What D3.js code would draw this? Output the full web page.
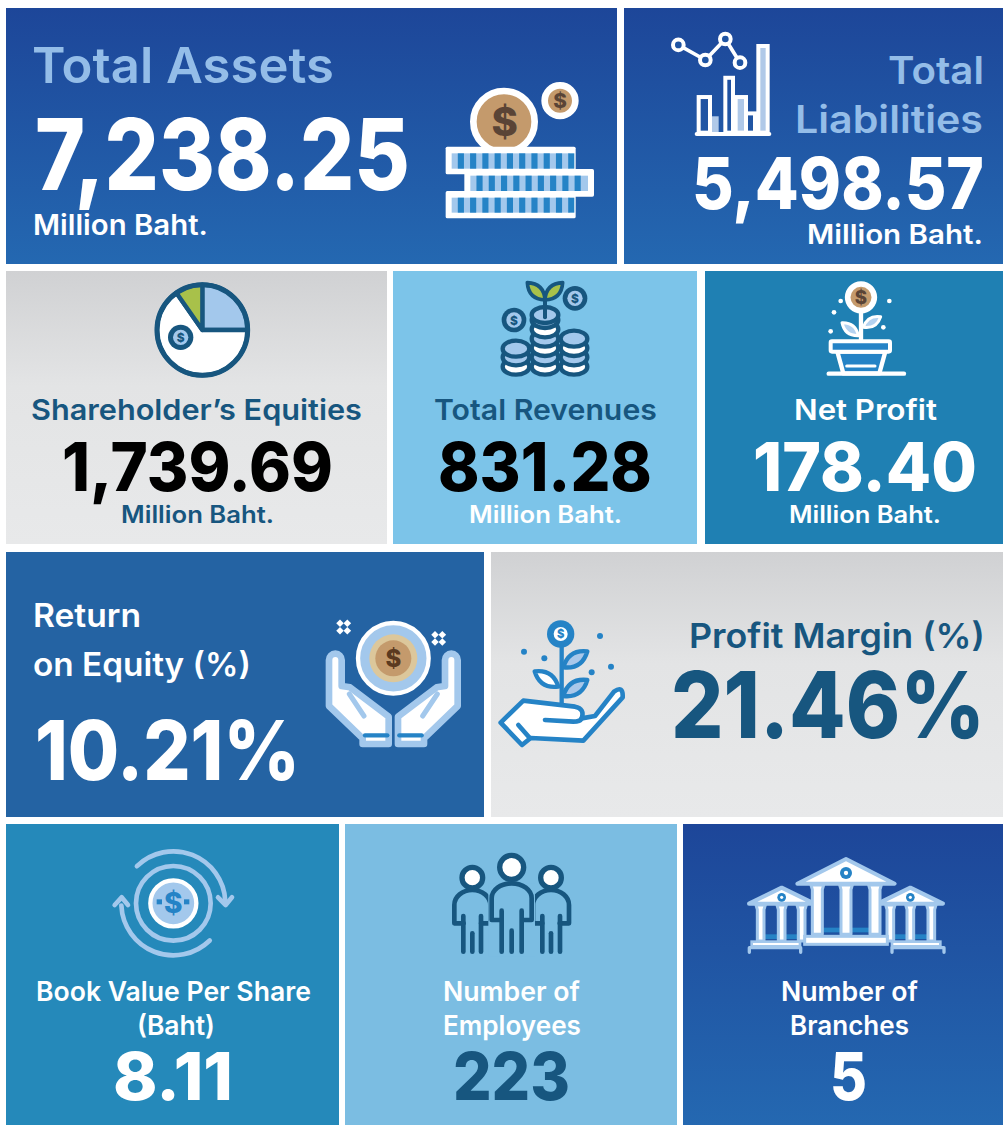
<!DOCTYPE html>
<html>
<head>
<meta charset="utf-8">
<script src="https://cdn.jsdelivr.net/npm/d3@7"></script>
<style>
  html, body { margin: 0; padding: 0; background: #fff; }
  svg { display: block; }
  text { font-family: Inter, "Noto Sans", sans-serif; }
</style>
</head>
<body>
<div id="chart"></div>
<script>
// figures as printed on the sheet
const titles = ["Total Assets", "Total", "Liabilities", "Shareholder’s Equities", "Total Revenues", "Net Profit",
  "Return", "on Equity (%)", "Profit Margin (%)", "Book Value Per Share", "(Baht)", "Number of", "Employees", "Number of", "Branches"];
const figures = ["7,238.25", "5,498.57", "1,739.69", "831.28", "178.40", "10.21%", "21.46%", "8.11", "223", "5"];
const unit = "Million Baht.";

// small charts inside the icons
const pieShares = [90, 235, 35];
const iconBars = [37, 17, 57, 37, 20, 90];
const iconLine = [18, 2.7, 24, 0];

const navy = "#17567f", mid = "#2583c6", pale = "#a3c8ec", tan = "#c49a6c", dollar = "#5a4436", leaf = "#a8c14a";

const svg = d3.select("#chart").append("svg").attr("width", 1003).attr("height", 1125);
const defs = svg.append("defs");

function gradient(id, stops) {
    const g = defs.append("linearGradient").attr("id", id).attr("x1", 0).attr("x2", 0).attr("y1", 0).attr("y2", 1);
    stops.forEach(s => g.append("stop").attr("offset", s[0]).attr("stop-color", s[1]));
}
gradient("blueGrad", [[0, "#1d4699"], [1, "#2468b1"]]);
gradient("grayGrad", [[0, "#d0d1d3"], [0.42, "#e3e4e5"], [1, "#e8e9ea"]]);

const tiles = [
    [6, 8, 617, 264, "url(#blueGrad)"], [624, 8, 1003, 264, "url(#blueGrad)"],
    [6, 271, 387, 544, "url(#grayGrad)"], [393, 271, 697, 544, "#7cc4e9"], [705, 271, 1003, 544, "#1f80b3"],
    [6, 552, 484, 817, "#2463a3"], [491, 552, 1003, 817, "url(#grayGrad)"],
    [6, 824, 339, 1125, "#2589ba"], [345, 824, 677, 1125, "#7bbde2"], [683, 824, 1003, 1125, "url(#blueGrad)"]
];
svg.selectAll("rect.tile").data(tiles).enter().append("rect")
    .attr("class", "tile")
    .attr("x", d => d[0]).attr("y", d => d[1])
    .attr("width", d => d[2] - d[0]).attr("height", d => d[3] - d[1])
    .attr("fill", d => d[4]);

// text is squeezed to the width it takes on the sheet
function label(str, x0, x1, base, size, weight, fill) {
    const t = svg.append("text")
        .attr("font-size", size).attr("font-weight", weight).attr("fill", fill)
        .text(str);
    const sx = (x1 - x0) / t.node().getComputedTextLength();
    t.attr("transform", `translate(${x0},${base}) scale(${sx},1)`);
}
const titleBlue = "#94bde8";

label(titles[0], 32, 334, 83, 50, 600, titleBlue);
label(figures[0], 35, 410, 190, 99, 800, "#fff");
label(unit, 33, 208, 235, 28, 600, "#fff");
label(titles[1], 888, 984, 84, 38, 600, titleBlue);
label(titles[2], 795, 983, 133, 38, 600, titleBlue);
label(figures[1], 692, 984, 209, 72, 800, "#fff");
label(unit, 807, 983, 244, 27, 600, "#fff");

label(titles[3], 31, 362, 420, 29, 600, navy);
label(figures[2], 62, 333, 491, 68, 800, "#000");
label(unit, 121, 274, 523, 24, 600, navy);
label(titles[4], 434, 657, 420, 29, 600, navy);
label(figures[3], 438, 652, 491, 68, 800, "#000");
label(unit, 469, 622, 523, 24, 600, "#fff");
label(titles[5], 794, 937, 420, 29, 600, "#fff");
label(figures[4], 753, 977, 491, 68, 800, "#fff");
label(unit, 789, 941, 523, 24, 600, "#fff");

label(titles[6], 33, 141, 627, 32, 600, "#fff");
label(titles[7], 33, 251, 676, 32, 600, "#fff");
label(figures[5], 35, 300, 780, 82, 800, "#fff");
label(titles[8], 689, 985, 648, 34, 600, navy);
label(figures[6], 671, 985, 738, 92, 800, navy);

label(titles[9], 36, 311, 1001, 27, 600, "#fff");
label(titles[10], 137, 215, 1035, 27, 600, "#fff");
label(figures[7], 113, 233, 1100, 66, 800, "#fff");
label(titles[11], 443, 580, 1001, 27, 600, "#fff");
label(titles[12], 443, 581, 1035, 27, 600, "#fff");
label(figures[8], 453, 570, 1100, 66, 800, navy);
label(titles[13], 781, 918, 1001, 27, 600, "#fff");
label(titles[14], 790, 909, 1035, 27, 600, "#fff");
label(figures[9], 830, 867, 1100, 66, 800, "#fff");

// icons are written in the coordinates of a 3x crop, hence the scale
function icon(x, y) {
    return svg.append("g").attr("transform", `translate(${x},${y}) scale(${1 / 3})`);
}
function circle(g, cx, cy, r, fill, stroke, sw) {
    return g.append("circle").attr("cx", cx).attr("cy", cy).attr("r", r)
        .attr("fill", fill).attr("stroke", stroke || "none").attr("stroke-width", sw || 0);
}
function path(g, d, fill, stroke, sw) {
    return g.append("path").attr("d", d).attr("fill", fill).attr("stroke", stroke || "none")
        .attr("stroke-width", sw || 0).attr("stroke-linecap", "round").attr("stroke-linejoin", "round");
}
function sign(g, cx, cy, size, fill) {
    g.append("text").attr("x", cx).attr("y", cy).attr("text-anchor", "middle").attr("dominant-baseline", "central")
        .attr("font-size", size).attr("font-weight", 800).attr("fill", fill).text("$");
}
function stripes(g, x0, x1, y0, y1) {
    const step = 18.4;
    g.append("rect").attr("x", x0).attr("y", y0).attr("width", x1 - x0).attr("height", y1 - y0).attr("fill", pale);
    d3.range(x0 + step, x1 - 4, step * 2).forEach(x => {
        g.append("rect").attr("x", x).attr("y", y0).attr("width", step).attr("height", y1 - y0).attr("fill", mid);
    });
}

// coins, total assets
{
    const g = icon(430, 20);
    circle(g, 222, 305, 92, tan, "#fff", 20);
    sign(g, 224, 305, 120, dollar);
    circle(g, 390, 242, 46, tan, "#fff", 20);
    sign(g, 390, 242, 62, dollar);
    [[47, 380, 437, 463], [103, 447, 492, 530], [47, 513, 437, 595]].forEach(b => {
        g.append("rect").attr("x", b[0]).attr("y", b[1]).attr("width", b[2] - b[0]).attr("height", b[3] - b[1])
            .attr("rx", 5).attr("fill", "#fff");
        stripes(g, b[0] + 18, b[2] - 18, b[1] + 20, b[3] - 17);
    });
}

// line + bars, total liabilities
{
    const g = icon(430, 20);
    const edges = [[806, 840], [846, 866], [886, 909], [917, 948], [948, 975], [985, 1013]];
    const y = d3.scaleLinear().domain([0, 90]).range([338, 78]);
    iconBars.forEach((v, i) => {
        const light = i === 1 || i === 3 || i === 5;
        g.append("rect").attr("x", edges[i][0]).attr("y", y(v)).attr("width", edges[i][1] - edges[i][0]).attr("height", 338 - y(v))
            .attr("fill", light ? "#b0c9e8" : "none")
            .attr("stroke", i === 1 ? "none" : "#fff").attr("stroke-width", i === 1 ? 0 : 12);
    });
    g.append("line").attr("x1", 800).attr("x2", 1018).attr("y1", 342).attr("y2", 342)
        .attr("stroke", "#fff").attr("stroke-width", 12).attr("stroke-linecap", "round");
    const lineX = [745, 826, 886, 930];
    const ly = d3.scaleLinear().domain([0, 24]).range([128, 57]);
    const line = d3.line().x((d, i) => lineX[i]).y(d => ly(d));
    path(g, line(iconLine), "none", "#fff", 11);
    iconLine.forEach((v, i) => circle(g, lineX[i], ly(v), 16, "#1f54a3", "#fff", 12));
}

// pie, shareholder's equities
{
    const g = icon(140, 270);
    circle(g, 187, 180, 136, "#fff");
    const arc = d3.arc().innerRadius(0).outerRadius(136);
    const slices = d3.pie().sort(null)(pieShares);
    [pale, "#fff", leaf].forEach((c, i) => {
        path(g.append("g").attr("transform", "translate(187,180)"), arc(slices[i]), c, navy, 13);
    });
    circle(g, 187, 180, 136, "none", navy, 15);
    circle(g, 122, 202, 38, navy);
    circle(g, 122, 202, 23, pale);
    sign(g, 122, 202, 36, navy);
}

function coin(g, cx, cy, fill) {
    g.append("ellipse").attr("cx", cx).attr("cy", cy).attr("rx", 40).attr("ry", 24)
        .attr("fill", fill).attr("stroke", navy).attr("stroke-width", 13);
}
function leafShape(g, x0, y0, x1, y1, bulge, fill, stroke, sw) {
    const mx = (x0 + x1) / 2, my = (y0 + y1) / 2, dx = y1 - y0, dy = x0 - x1;
    path(g, `M${x0},${y0}Q${mx + dx * bulge},${my + dy * bulge} ${x1},${y1}Q${mx - dx * bulge},${my - dy * bulge} ${x0},${y0}Z`, fill, stroke, sw);
}

// coin stacks, total revenues
{
    const g = icon(490, 270);
    [[78, [290, 262, 236]], [252, [290, 262, 234, 206]], [165, [290, 262, 234, 206, 178, 150, 135]]].forEach(s => {
        s[1].forEach((y, i) => coin(g, s[0], y, i === s[1].length - 1 || i % 2 === 1 ? pale : "#fff"));
    });
    path(g, "M165,142L165,75", "none", navy, 12);
    leafShape(g, 165, 90, 112, 38, 0.45, leaf, navy, 11);
    leafShape(g, 165, 90, 218, 38, -0.45, leaf, navy, 11);
    [[255, 85], [72, 150]].forEach(p => {
        circle(g, p[0], p[1], 37, navy);
        circle(g, p[0], p[1], 23, pale);
        sign(g, p[0], p[1], 36, navy);
    });
}

// pot plant, net profit
{
    const g = icon(490, 270);
    path(g, "M1113,120L1113,215", "none", "#fff", 13);
    circle(g, 1113, 82, 40, tan, "#fff", 17);
    sign(g, 1113, 82, 56, dollar);
    leafShape(g, 1120, 172, 1172, 140, 0.42, "#b4d2f0", "#fff", 9);
    leafShape(g, 1105, 197, 1056, 158, -0.42, "#b4d2f0", "#fff", 9);
    path(g, "M1042,245L1060,310L1168,310L1186,245Z", mid, "#fff", 13);
    g.append("rect").attr("x", 1022).attr("y", 214).attr("width", 178).attr("height", 31)
        .attr("rx", 4).attr("fill", mid).attr("stroke", "#fff").attr("stroke-width", 12);
    path(g, "M1070,288L1155,288", "none", "#fff", 9);
    path(g, "M1016,311L1242,311", "none", "#fff", 13);
    [[1052, 93], [1198, 93], [1032, 127], [1022, 184], [1180, 172]].forEach(p => circle(g, p[0], p[1], 7, "#fff"));
}

// hands, return on equity
{
    const g = icon(310, 610);
    const hand = "M57,150A19,19 0 0 1 95,150L95,228L120,232L236,320L236,402L158,402L158,385L57,288Z";
    [0, 1].forEach(side => {
        const h = side ? g.append("g").attr("transform", "translate(500,0) scale(-1,1)") : g;
        path(h, hand, "#fff", pale, 20);
        path(h, "M118,252L162,318", "none", pale, 15);
        path(h, "M165,376L232,376", "none", mid, 13);
    });
    circle(g, 250, 145, 106, pale, "#fff", 13);
    circle(g, 250, 145, 72, "#dcc79b");
    circle(g, 250, 145, 54, tan);
    sign(g, 250, 145, 72, "#5b3a20");
    [[101, 51], [386, 85]].forEach(p => {
        [[-11, -11], [11, -11], [-11, 11], [11, 11]].forEach(o => {
            g.append("rect").attr("x", p[0] + o[0] - 8).attr("y", p[1] + o[1] - 8).attr("width", 16).attr("height", 16)
                .attr("fill", "#fff").attr("transform", `rotate(45 ${p[0] + o[0]} ${p[1] + o[1]})`);
        });
    });
}

// plant in hand, profit margin
{
    const g = icon(310, 610);
    path(g, "M755,100L755,280", "none", mid, 13);
    leafShape(g, 760, 172, 832, 124, 0.42, "#a9c8ea", mid, 13);
    leafShape(g, 745, 230, 674, 184, -0.42, "#fff", mid, 13);
    leafShape(g, 760, 258, 832, 210, 0.42, "#a9c8ea", mid, 13);
    path(g, "M572,338L640,272L795,290Q825,296 815,325L855,318L912,245Q940,225 938,262L820,392L662,384L636,405Z", "#fff", mid, 14);
    path(g, "M705,330L790,335Q810,335 815,325", "none", mid, 14);
    path(g, "M625,345L660,385", "none", mid, 14);
    circle(g, 752, 72, 41, mid);
    circle(g, 752, 72, 21, "#fff");
    sign(g, 752, 72, 34, mid);
    [[642, 125], [703, 145], [870, 78], [845, 187], [903, 170]].forEach(p => circle(g, p[0], p[1], 9, mid));
}

// circular arrows, book value
{
    const g = icon(100, 840);
    const ring = g.append("g").attr("transform", "translate(220,190)");
    const arc = d3.arc().innerRadius(149).outerRadius(163).cornerRadius(7);
    const rad = Math.PI / 180;
    path(ring, arc({ startAngle: -47 * rad, endAngle: 90 * rad }), pale);
    path(ring, arc({ startAngle: 133 * rad, endAngle: 270 * rad }), pale);
    path(g, "M354,172L377,195L396,172", "none", pale, 14);
    path(g, "M44,195L65,172L84,195", "none", pale, 14);
    circle(g, 220, 190, 112, "none", pale, 14);
    circle(g, 220, 190, 69, pale, "#fff", 13);
    sign(g, 220, 188, 84, mid);
    [170, 252].forEach(x => g.append("rect").attr("x", x).attr("y", 178).attr("width", 16).attr("height", 15).attr("fill", mid));
}

// people, employees
{
    const g = icon(100, 840);
    const body = (cx, hw, ty, by) => `M${cx - hw + 10},${by}L${cx - hw - 18},${by}L${cx - hw - 18},${ty + 45}A${hw + 18},45 0 0 1 ${cx + hw + 18},${ty + 45}L${cx + hw + 18},${by}L${cx + hw - 10},${by}`;
    [[1117, 150, 250, 27], [1353, 150, 250, 27]].forEach(p => {
        path(g, body(p[0], p[3] + 9, p[1], p[2]), "none", navy, 14);
    });
    g.append("rect").attr("x", 1165).attr("y", 130).attr("width", 140).attr("height", 220).attr("fill", "#7bbde2");
    path(g, body(1235, 42, 130, 240), "none", navy, 14);
    circle(g, 1235, 82, 36, "#fff", navy, 16);
    circle(g, 1117, 113, 31, "#fff", navy, 16);
    circle(g, 1353, 113, 31, "#fff", navy, 16);
    [[1090, 228], [1143, 228], [1117, 280], [1205, 212], [1265, 212], [1235, 272], [1327, 228], [1380, 228], [1353, 280]].forEach(l => {
        path(g, `M${l[0]},${l[1]}L${l[0]},335`, "none", navy, 14);
    });
}

// banks, branches
{
    const g = icon(730, 845);
    const building = (cx, half, top, eave, cols, colW, bot, r) => {
        cols.forEach((o, i) => {
            if (i < cols.length - 1) {
                g.append("rect").attr("x", cx + o).attr("y", bot - 20).attr("width", cols[i + 1] - o).attr("height", 14).attr("fill", mid);
            }
        });
        cols.forEach(o => {
            path(g, `M${cx + o - colW / 2},${eave}L${cx + o + colW / 2},${eave}L${cx + o + colW / 2 - 4},${eave + 14}L${cx + o + colW / 2 - 4},${bot}L${cx + o - colW / 2 + 4},${bot}L${cx + o - colW / 2 + 4},${eave + 14}Z`, "#fff", pale, 9);
        });
        path(g, `M${cx},${top}L${cx + half},${eave - 4}L${cx - half},${eave - 4}Z`, "#fff", pale, 12);
        circle(g, cx, (top + eave) / 2 + 3, r, mid);
        circle(g, cx, (top + eave) / 2 + 3, r * 0.36, "#fff");
    };
    building(155, 98, 128, 180, [-63, 0, 60], 28, 288, 13);
    building(541, 98, 128, 180, [-60, 0, 63], 28, 288, 13);
    // lower plinths of the side buildings
    [[65, 290, 145], [486, 290, 145]].forEach(b => {
        g.append("rect").attr("x", b[0]).attr("y", b[1]).attr("width", b[2]).attr("height", 14)
            .attr("fill", "#fff").attr("stroke", pale).attr("stroke-width", 8);
    });
    path(g, "M58,322L58,308L212,308L212,322", "none", pale, 10);
    path(g, "M486,322L486,308L642,308L642,322", "none", pale, 10);
    building(348, 146, 42, 120, [-86, 0, 87], 38, 268, 18);
    g.append("rect").attr("x", 224).attr("y", 274).attr("width", 248).attr("height", 24)
        .attr("fill", "#fff").attr("stroke", pale).attr("stroke-width", 9);
}
</script>
</body>
</html>
